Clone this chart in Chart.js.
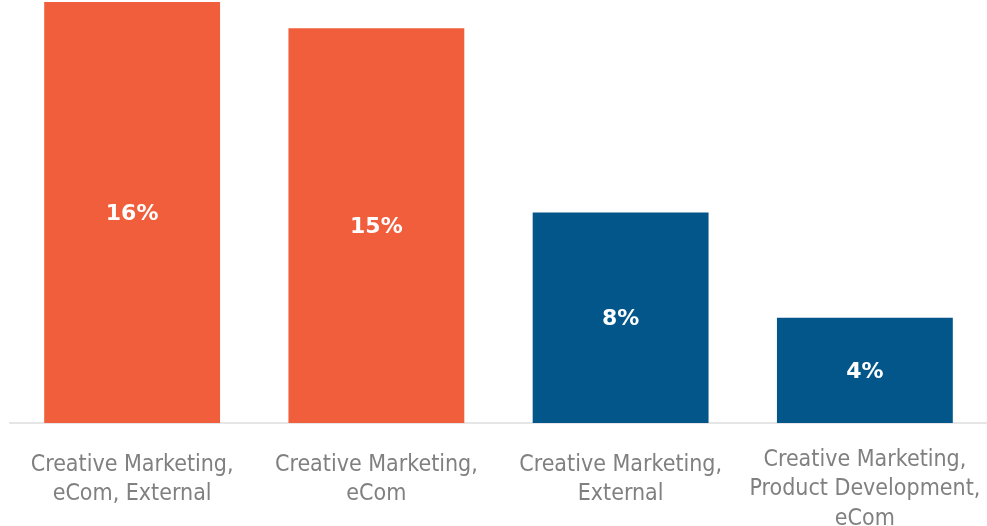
<!DOCTYPE html>
<html lang="en">
<head>
  <meta charset="utf-8">
  <title>Share by team mix</title>
  <style>
    html, body { margin: 0; padding: 0; background: #fff; overflow: hidden; }
    canvas { display: block; }
  </style>
</head>
<body>
  <canvas id="myBarChart" width="987" height="526"></canvas>
  <script src="https://cdn.jsdelivr.net/npm/chart.js@4/dist/chart.umd.min.js"></script>
  <script>
    // categories (each label split into lines) and values in percent
    var labels = [
      ['Creative Marketing,', 'eCom, External'],
      ['Creative Marketing,', 'eCom'],
      ['Creative Marketing,', 'External'],
      ['Creative Marketing,', 'Product Development,', 'eCom']
    ];
    var values = [16, 15, 8, 4];
    var barColors = ['#F15E3C', '#F15E3C', '#03568A', '#03568A'];

    // white percentage text in the middle of each bar
    var centerLabels = {
      id: 'centerLabels',
      afterDatasetsDraw: function (chart) {
        var ctx = chart.ctx;
        var meta = chart.getDatasetMeta(0);
        ctx.save();
        ctx.font = 'bold 22px "DejaVu Sans"';
        ctx.fillStyle = '#ffffff';
        ctx.textAlign = 'center';
        ctx.textBaseline = 'middle';
        meta.data.forEach(function (bar, i) {
          var y = (bar.y + bar.base) / 2 + 2;
          ctx.fillText(values[i] + '%', bar.x, y);
        });
        ctx.restore();
      }
    };

    // category names under the axis; longer names start a little higher
    var categoryLabels = {
      id: 'categoryLabels',
      afterDraw: function (chart) {
        var ctx = chart.ctx;
        var xScale = chart.scales.x;
        var lineH = 29.5;
        ctx.save();
        ctx.font = '23px "DejaVu Sans Condensed", "DejaVu Sans"';
        ctx.fillStyle = '#808080';
        ctx.textAlign = 'center';
        ctx.textBaseline = 'middle';
        labels.forEach(function (lines, i) {
          var x = xScale.getPixelForValue(i);
          var y = chart.chartArea.bottom + 42 - (lines.length - 2) * 5;
          lines.forEach(function (line, j) {
            ctx.fillText(line, x, y + j * lineH);
          });
        });
        ctx.restore();
      }
    };

    var ctx = document.getElementById('myBarChart');
    var myBarChart = new Chart(ctx, {
      type: 'bar',
      data: {
        labels: labels,
        datasets: [{
          data: values,
          backgroundColor: barColors,
          borderWidth: 0,
          categoryPercentage: 0.72,
          barPercentage: 1.0
        }]
      },
      options: {
        responsive: false,
        animation: false,
        layout: { padding: { left: 10, right: 0, top: 2, bottom: 0 } },
        plugins: {
          legend: { display: false },
          tooltip: { enabled: false }
        },
        scales: {
          x: {
            grid: { display: false },
            border: { display: true, color: '#e6e6e6', width: 2 },
            ticks: { display: false },
            afterFit: function (scale) {
              // fixed label band, and let the bars use the full width
              scale.height = 103;
              scale.paddingLeft = 0;
              scale.paddingRight = 0;
            }
          },
          y: {
            display: false,
            min: 0,
            max: 16
          }
        }
      },
      plugins: [centerLabels, categoryLabels]
    });
  </script>
</body>
</html>
